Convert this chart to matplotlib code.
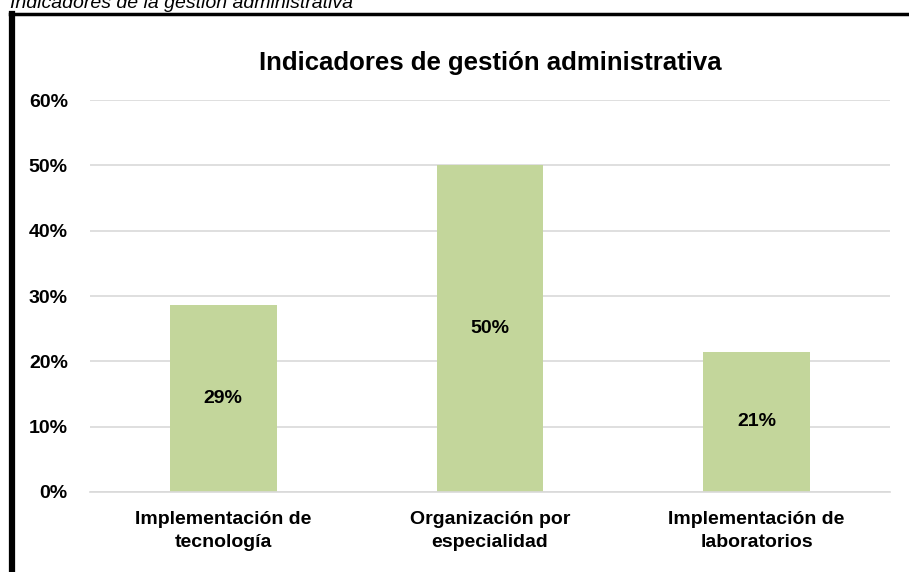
import matplotlib
matplotlib.use("Agg")
import matplotlib.pyplot as plt
from matplotlib.lines import Line2D
from matplotlib.ticker import PercentFormatter

plt.rcParams['font.family'] = ['Liberation Sans', 'DejaVu Sans']

categories = ["Implementación de\ntecnología",
              "Organización por\nespecialidad",
              "Implementación de\nlaboratorios"]
values = [0.2857, 0.50, 0.2143]
labels = ["29%", "50%", "21%"]
yticks = [0, 0.1, 0.2, 0.3, 0.4, 0.5, 0.6]

fig = plt.figure(figsize=(9.09, 5.72), dpi=100)
ax = fig.add_axes([0.099, 0.14, 0.88, 0.685])

x = range(len(categories))
ax.bar(x, values, width=0.4, color='#c3d69b', zorder=2)
for i, (v, lab) in enumerate(zip(values, labels)):
    ax.text(i, v / 2, lab, ha='center', va='center', fontsize=14,
            fontweight='bold', color='black', zorder=3)

ax.set_xlim(-0.5, 2.5)
ax.set_ylim(0, 0.6)
ax.set_yticks(yticks)
ax.yaxis.set_major_formatter(PercentFormatter(1.0, decimals=0))
ax.set_xticks(list(x))
ax.set_xticklabels(categories, fontsize=14, fontweight='bold', linespacing=1.45)
ax.tick_params(axis='x', length=0, pad=14)
ax.tick_params(axis='y', length=0, pad=16)
for lbl in ax.get_yticklabels():
    lbl.set_fontweight('bold')
    lbl.set_fontsize(14)
ax.grid(axis='y', color='#d9d9d9', linewidth=1.2, zorder=0)
for s in ['top', 'right', 'left']:
    ax.spines[s].set_visible(False)
ax.spines['bottom'].set_color('#d9d9d9')
ax.spines['bottom'].set_linewidth(1.2)

ax.set_title("Indicadores de gestión administrativa", fontsize=18.5,
             fontweight='bold', pad=22)

# frame lines (only left and top visible in the crop)
fig.add_artist(Line2D([12 / 909, 12 / 909], [0, 1 - 14 / 572],
                      transform=fig.transFigure, color='black', linewidth=4.5))
fig.add_artist(Line2D([10 / 909, 1], [1 - 14 / 572, 1 - 14 / 572],
                      transform=fig.transFigure, color='black', linewidth=2.5))

fig.text(10 / 909, 1 - 8 / 572, "Indicadores de la gestión administrativa",
         fontsize=14, style='italic', ha='left', va='baseline')

fig.savefig("out.png", dpi=100)
